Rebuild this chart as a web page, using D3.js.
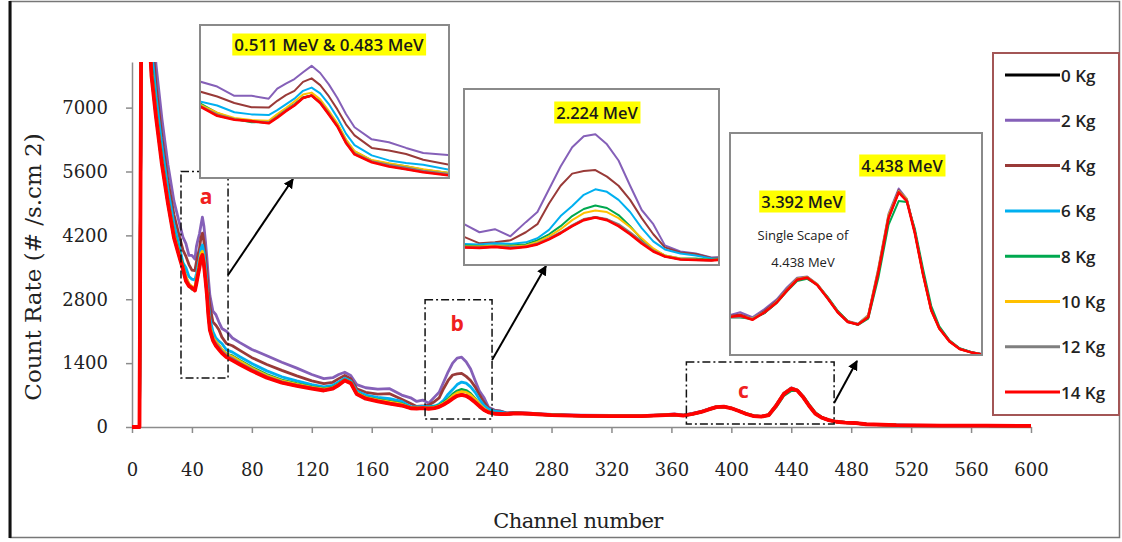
<!DOCTYPE html>
<html>
<head>
<meta charset="utf-8">
<script src="https://cdnjs.cloudflare.com/ajax/libs/d3/7.8.5/d3.min.js"></script>
<style>
  body { margin: 0; background: #fff; }
  svg { display: block; }
</style>
</head>
<body>
<script>
(function() {
    'use strict';

    var channels = [0, 5, 7, 10, 13, 16, 20, 24, 28, 32,
        34, 36, 38, 40, 42, 43, 44, 45, 46, 47, 48, 49, 50, 51, 52, 54, 56, 58, 60, 63,
        67, 72, 80, 90, 100, 110, 120, 128, 134, 138, 142, 146, 150, 156, 164, 172, 180,
        186, 190, 194, 198, 202, 205, 208, 211, 214, 217, 220, 223, 226, 229, 232, 235, 238, 242, 246, 250,
        256, 265, 280, 300, 320, 340, 356,
        362, 368, 374, 380, 385, 390, 395, 400, 405, 410, 415, 420, 425, 430, 435, 440, 444, 448, 452, 456, 460, 465, 470, 476, 482,
        490, 510, 540, 570, 600];

    var kg0 = [0, 0, 15000, 9650, 7720, 6820, 5770, 4910, 4160, 3690,
        3470, 3210, 3100, 3050, 3000, 3160, 3340, 3500, 3700, 3770, 3570, 3250, 2910, 2450, 2130, 1910, 1790, 1710, 1630, 1540,
        1470, 1380, 1240, 1090, 975, 905, 845, 805, 845, 925, 1025, 962, 725, 625, 565, 515, 475,
        412, 408, 416, 404, 417, 444, 494, 554, 624, 684, 708, 684, 626, 546, 456, 374, 322, 292, 286, 282,
        300, 290, 262, 245, 240, 240, 262,
        263, 257, 281, 331, 386, 436, 446, 411, 350, 285, 240, 228, 263, 472, 722, 841, 802, 651, 461, 295, 210, 150, 115, 98, 88,
        60, 40, 32, 28, 25];
    var kg2 = [0, 0, 15000, 12000, 9300, 7950, 6750, 5750, 4950, 4420,
        4160, 4020, 3760, 3760, 3680, 3960, 4100, 4230, 4420, 4600, 4400, 4080, 3700, 3250, 2880, 2540, 2460, 2300, 2160, 2100,
        1950, 1850, 1700, 1560, 1420, 1290, 1150, 1060, 1080, 1150, 1200, 1130, 930, 860, 830, 840, 700,
        640, 560, 590, 520, 660, 760, 985, 1210, 1400, 1510, 1530, 1430, 1270, 1020, 780, 640, 430, 370, 350, 310,
        320, 305, 275, 258, 252, 250, 270,
        285, 262, 300, 345, 400, 445, 450, 415, 355, 290, 245, 232, 272, 490, 740, 858, 810, 660, 470, 300, 212, 152, 117, 100, 90,
        62, 42, 33, 29, 26];
    var kg4 = [0, 0, 15000, 11000, 8700, 7500, 6350, 5400, 4650, 4130,
        3880, 3740, 3560, 3440, 3430, 3620, 3780, 3900, 4150, 4250, 4060, 3750, 3380, 2960, 2650, 2300, 2230, 2130, 1970, 1830,
        1780, 1680, 1520, 1370, 1240, 1120, 1010, 950, 980, 1060, 1130, 1060, 840, 760, 720, 730, 610,
        515, 450, 460, 480, 560, 640, 845, 1020, 1140, 1165, 1175, 1110, 1020, 880, 700, 540, 410, 360, 345, 306,
        312, 298, 268, 250, 245, 245, 266,
        275, 255, 292, 338, 392, 440, 448, 412, 352, 288, 242, 230, 268, 480, 730, 850, 805, 655, 465, 298, 212, 151, 116, 99, 89,
        61, 41, 32, 28, 25];
    var kg6 = [0, 0, 15000, 10500, 8300, 7250, 6150, 5200, 4450, 3900,
        3600, 3490, 3300, 3240, 3220, 3360, 3520, 3680, 3900, 3990, 3830, 3530, 3150, 2700, 2380, 2090, 1950, 1880, 1830, 1690,
        1640, 1540, 1390, 1230, 1100, 1010, 930, 880, 910, 990, 1070, 1010, 790, 700, 650, 620, 560,
        445, 440, 450, 445, 460, 500, 584, 720, 820, 930, 985, 960, 880, 760, 600, 470, 390, 350, 330, 300,
        305, 294, 265, 248, 243, 242, 264,
        268, 256, 286, 334, 388, 438, 446, 411, 351, 286, 241, 229, 265, 475, 725, 845, 805, 655, 465, 298, 212, 151, 116, 99, 89,
        61, 41, 32, 28, 25];
    var kg8 = [0, 0, 15000, 10000, 7900, 6950, 5880, 4980, 4250, 3760,
        3550, 3280, 3110, 3020, 3030, 3200, 3380, 3530, 3720, 3760, 3600, 3300, 2970, 2520, 2200, 1950, 1860, 1790, 1690, 1600,
        1560, 1460, 1310, 1150, 1030, 950, 880, 840, 870, 950, 1040, 980, 750, 650, 600, 560, 510,
        428, 425, 430, 428, 440, 480, 540, 620, 720, 790, 825, 800, 730, 620, 490, 390, 330, 300, 300, 288,
        302, 291, 263, 246, 241, 241, 262,
        262, 252, 282, 328, 382, 430, 440, 412, 356, 292, 244, 226, 255, 445, 690, 800, 796, 670, 485, 315, 220, 155, 118, 100, 89,
        60, 40, 32, 28, 25];
    var kg10 = [0, 0, 15000, 9900, 7800, 6900, 5830, 4950, 4220, 3730,
        3510, 3290, 3140, 3080, 3060, 3250, 3420, 3600, 3800, 3850, 3660, 3340, 2990, 2540, 2210, 1960, 1870, 1790, 1700, 1600,
        1540, 1440, 1290, 1130, 1010, 935, 870, 830, 860, 940, 1035, 975, 745, 645, 590, 545, 500,
        420, 418, 425, 420, 430, 465, 520, 590, 680, 750, 775, 760, 700, 610, 500, 400, 330, 300, 290, 285,
        301, 291, 263, 246, 241, 241, 263,
        266, 256, 284, 334, 390, 440, 448, 414, 352, 287, 242, 229, 270, 485, 735, 845, 810, 650, 458, 292, 208, 150, 115, 98, 88,
        60, 40, 32, 28, 25];
    var kg12 = [0, 0, 15000, 9750, 7750, 6850, 5800, 4920, 4180, 3700,
        3480, 3240, 3110, 3050, 3020, 3180, 3360, 3520, 3700, 3770, 3590, 3280, 2930, 2480, 2150, 1930, 1830, 1750, 1660, 1570,
        1500, 1400, 1260, 1100, 990, 915, 855, 815, 850, 930, 1030, 965, 730, 630, 570, 520, 480,
        415, 412, 418, 415, 420, 450, 500, 560, 630, 690, 710, 690, 640, 560, 470, 380, 320, 295, 288, 282,
        300, 290, 262, 245, 240, 240, 262,
        264, 255, 283, 332, 388, 438, 447, 412, 351, 286, 241, 228, 266, 478, 728, 842, 806, 652, 462, 296, 210, 151, 116, 98, 88,
        60, 40, 32, 28, 25];
    var kg14 = [0, 0, 15000, 9600, 7700, 6800, 5750, 4900, 4150, 3680,
        3460, 3200, 3090, 3050, 2990, 3150, 3330, 3490, 3700, 3770, 3560, 3240, 2900, 2440, 2120, 1900, 1780, 1700, 1620, 1530,
        1460, 1370, 1230, 1080, 970, 900, 840, 800, 840, 920, 1020, 960, 720, 620, 560, 510, 470,
        410, 405, 415, 400, 415, 440, 490, 550, 620, 680, 705, 680, 620, 540, 450, 370, 320, 290, 285, 282,
        300, 290, 262, 245, 240, 240, 262,
        270, 250, 285, 330, 385, 435, 445, 410, 350, 285, 240, 228, 262, 470, 720, 840, 800, 650, 460, 295, 210, 150, 115, 98, 88,
        60, 40, 32, 28, 25];

    var seriesNames = ["0 Kg", "2 Kg", "4 Kg", "6 Kg", "8 Kg", "10 Kg", "12 Kg", "14 Kg"];
    var seriesValues = [kg0, kg2, kg4, kg6, kg8, kg10, kg12, kg14];
    var seriesColors = ["#000000", "#8560b8", "#993a38", "#00b0f0", "#00a84f", "#ffc000", "#7f7f7f", "#ff0000"];

    var xTicks = [0, 40, 80, 120, 160, 200, 240, 280, 320, 360, 400, 440, 480, 520, 560, 600];
    var yTicks = [0, 1400, 2800, 4200, 5600, 7000];

    var serif = "'DejaVu Serif', serif";
    var sans = "'Open Sans', sans-serif";

    var series = seriesNames.map(function(name, i) {
        return {
            name: name,
            color: seriesColors[i],
            points: channels.map(function(c, j) { return [c, seriesValues[i][j]]; })
        };
    });

    var w = 1122;
    var h = 542;
    var svg = d3.select("body")
                .append("svg")
                .attr("width", w)
                .attr("height", h);
    var defs = svg.append("defs");

    defs.append("marker")
        .attr("id", "arrow")
        .attr("viewBox", "0 0 10 10")
        .attr("refX", 9)
        .attr("refY", 5)
        .attr("markerWidth", 5)
        .attr("markerHeight", 5)
        .attr("orient", "auto")
        .append("path")
        .attr("d", "M0,0 L10,5 L0,10 z")
        .attr("fill", "#000");

    // outer frame
    svg.append("rect")
       .attr("x", 10.5).attr("y", 1.5)
       .attr("width", 1109).attr("height", 536)
       .attr("fill", "none")
       .attr("stroke", "#777")
       .attr("stroke-width", 1.5);
    svg.append("line")
       .attr("x1", 10).attr("x2", 10)
       .attr("y1", 1).attr("y2", 538)
       .attr("stroke", "#111")
       .attr("stroke-width", 3);

    var x = d3.scaleLinear().domain([0, 600]).range([132, 1031]);
    var y = d3.scaleLinear().domain([0, 8000]).range([427, 62]);

    var xAxis = svg.append("g")
                   .attr("transform", "translate(0," + y(0) + ")")
                   .call(d3.axisBottom(x).tickValues(xTicks).tickSize(6).tickSizeOuter(0).tickPadding(30));
    var yAxis = svg.append("g")
                   .attr("transform", "translate(" + x(0) + ",0)")
                   .call(d3.axisLeft(y).tickValues(yTicks).tickFormat(d3.format("d"))
                           .tickSize(6).tickSizeOuter(0).tickPadding(18));
    [xAxis, yAxis].forEach(function(a) {
        a.selectAll("path, line").attr("stroke", "#8c8c8c").attr("stroke-width", 1.5);
        a.selectAll("text")
         .attr("font-family", serif)
         .attr("font-size", 18)
         .attr("fill", "#222");
    });

    svg.append("text")
       .attr("x", 578)
       .attr("y", 528)
       .attr("text-anchor", "middle")
       .attr("font-family", serif)
       .attr("font-size", 21)
       .attr("letter-spacing", -0.6)
       .attr("fill", "#222")
       .text("Channel number");

    svg.append("text")
       .attr("transform", "translate(41,267) rotate(-90)")
       .attr("text-anchor", "middle")
       .attr("font-family", serif)
       .attr("font-size", 23)
       .attr("fill", "#222")
       .text("Count Rate (# /s.cm 2)");

    defs.append("clipPath").attr("id", "clip-main")
        .append("rect")
        .attr("x", x(0) - 2).attr("y", y(8000))
        .attr("width", x(600) - x(0) + 4)
        .attr("height", y(0) - y(8000) + 4);

    var line = d3.line()
                 .x(function(d) { return x(d[0]); })
                 .y(function(d) { return y(d[1]); });

    svg.append("g")
       .attr("clip-path", "url(#clip-main)")
       .selectAll("path")
       .data(series)
       .enter()
       .append("path")
       .attr("d", function(d) { return line(d.points); })
       .attr("fill", "none")
       .attr("stroke", function(d) { return d.color; })
       .attr("stroke-width", function(d, i) { return i === 7 ? 3.8 : 2.8; })
       .attr("stroke-linejoin", "round");

    // dash-dot boxes around the peaks, in data units [ch0, ch1, count0, count1]
    var zoneBoxes = [[32.7, 64.1, 1075, 5600], [195.6, 240.3, 175, 2787], [370, 468.6, 66, 1426]];
    var zoneLetters = [["a", 49.4, 5019], ["b", 217, 2236], ["c", 408, 767]];

    svg.selectAll("rect.zone")
       .data(zoneBoxes)
       .enter()
       .append("rect")
       .attr("class", "zone")
       .attr("x", function(d) { return x(d[0]); })
       .attr("y", function(d) { return y(d[3]); })
       .attr("width", function(d) { return x(d[1]) - x(d[0]); })
       .attr("height", function(d) { return y(d[2]) - y(d[3]); })
       .attr("fill", "none")
       .attr("stroke", "#111")
       .attr("stroke-width", 1.5)
       .attr("stroke-dasharray", "8,3,2,3");

    svg.selectAll("text.zone")
       .data(zoneLetters)
       .enter()
       .append("text")
       .attr("class", "zone")
       .attr("x", function(d) { return x(d[1]); })
       .attr("y", function(d) { return y(d[2]); })
       .attr("text-anchor", "middle")
       .attr("dominant-baseline", "middle")
       .attr("font-family", sans)
       .attr("font-weight", "bold")
       .attr("font-size", 21)
       .attr("fill", "#f02020")
       .text(function(d) { return d[0]; });

    var insets = [
        {id: "a", x: 200, y: 25, w: 249, h: 153, ch: [34, 63], cnt: [1457, 5745], arrowFrom: [64.1, 3331], arrowTo: [293, 179]},
        {id: "b", x: 464, y: 89, w: 255, h: 176, ch: [186, 252], cnt: [236, 1977], arrowFrom: [240.3, 1468], arrowTo: [546, 266]},
        {id: "c", x: 730, y: 133, w: 252, h: 222, ch: [357, 481], cnt: [87, 1115], arrowFrom: [468.6, 526], arrowTo: [857, 361]}
    ];

    insets.forEach(function(ins) {
        svg.append("line")
           .attr("x1", x(ins.arrowFrom[0]))
           .attr("y1", y(ins.arrowFrom[1]))
           .attr("x2", ins.arrowTo[0])
           .attr("y2", ins.arrowTo[1])
           .attr("stroke", "#000")
           .attr("stroke-width", 2)
           .attr("marker-end", "url(#arrow)");

        var g = svg.append("g");
        g.append("rect")
         .attr("x", ins.x).attr("y", ins.y)
         .attr("width", ins.w).attr("height", ins.h)
         .attr("fill", "#fff")
         .attr("stroke", "#8a8a8a")
         .attr("stroke-width", 2);

        defs.append("clipPath").attr("id", "clip-" + ins.id)
            .append("rect")
            .attr("x", ins.x + 1).attr("y", ins.y + 1)
            .attr("width", ins.w - 2).attr("height", ins.h - 2);

        var ix = d3.scaleLinear().domain(ins.ch).range([ins.x, ins.x + ins.w]);
        var iy = d3.scaleLinear().domain(ins.cnt).range([ins.y + ins.h, ins.y]);
        var iline = d3.line()
                      .x(function(d) { return ix(d[0]); })
                      .y(function(d) { return iy(d[1]); });

        g.append("g")
         .attr("clip-path", "url(#clip-" + ins.id + ")")
         .selectAll("path")
         .data(series)
         .enter()
         .append("path")
         .attr("d", function(d) { return iline(d.points); })
         .attr("fill", "none")
         .attr("stroke", function(d) { return d.color; })
         .attr("stroke-width", function(d, i) { return i === 7 ? 2.6 : 2; })
         .attr("stroke-linejoin", "round");
    });

    function highlight(cx, cy, label, size) {
        var g = svg.append("g");
        var t = g.append("text")
                 .attr("x", cx)
                 .attr("y", cy)
                 .attr("text-anchor", "middle")
                 .attr("dominant-baseline", "central")
                 .attr("font-family", sans)
                 .attr("font-weight", 600)
                 .attr("font-size", size)
                 .attr("fill", "#1a1a1a")
                 .text(label);
        var b = t.node().getBBox();
        g.insert("rect", "text")
         .attr("x", b.x - 2)
         .attr("y", b.y + 1)
         .attr("width", b.width + 4)
         .attr("height", b.height - 1)
         .attr("fill", "#ffff00");
    }

    highlight(329, 44, "0.511 MeV & 0.483 MeV", 17);
    highlight(597, 112, "2.224 MeV", 16.5);
    highlight(902, 165, "4.438 MeV", 16.5);
    highlight(802, 201, "3.392 MeV", 16.5);

    svg.selectAll("text.note")
       .data(["Single Scape of", "4.438 MeV"])
       .enter()
       .append("text")
       .attr("class", "note")
       .attr("x", 803)
       .attr("y", function(d, i) { return 235 + i * 27; })
       .attr("text-anchor", "middle")
       .attr("dominant-baseline", "central")
       .attr("font-family", sans)
       .attr("font-size", 13)
       .attr("fill", "#222")
       .text(function(d) { return d; });

    // legend
    var legend = svg.append("g");
    legend.append("rect")
          .attr("x", 993).attr("y", 53)
          .attr("width", 126).attr("height", 362)
          .attr("fill", "#fff")
          .attr("stroke", "#a35656")
          .attr("stroke-width", 2);
    var items = legend.selectAll("g")
                      .data(series)
                      .enter()
                      .append("g")
                      .attr("transform", function(d, i) { return "translate(0," + (75 + i * 45.3) + ")"; });
    items.append("line")
         .attr("x1", 1005).attr("x2", 1060)
         .attr("y1", 0).attr("y2", 0)
         .attr("stroke", function(d) { return d.color; })
         .attr("stroke-width", 3);
    items.append("text")
         .attr("x", 1061)
         .attr("y", 0)
         .attr("dominant-baseline", "central")
         .attr("font-family", sans)
         .attr("font-weight", 600)
         .attr("font-size", 17)
         .attr("fill", "#222")
         .text(function(d) { return d.name; });
}());
</script>
</body>
</html>
